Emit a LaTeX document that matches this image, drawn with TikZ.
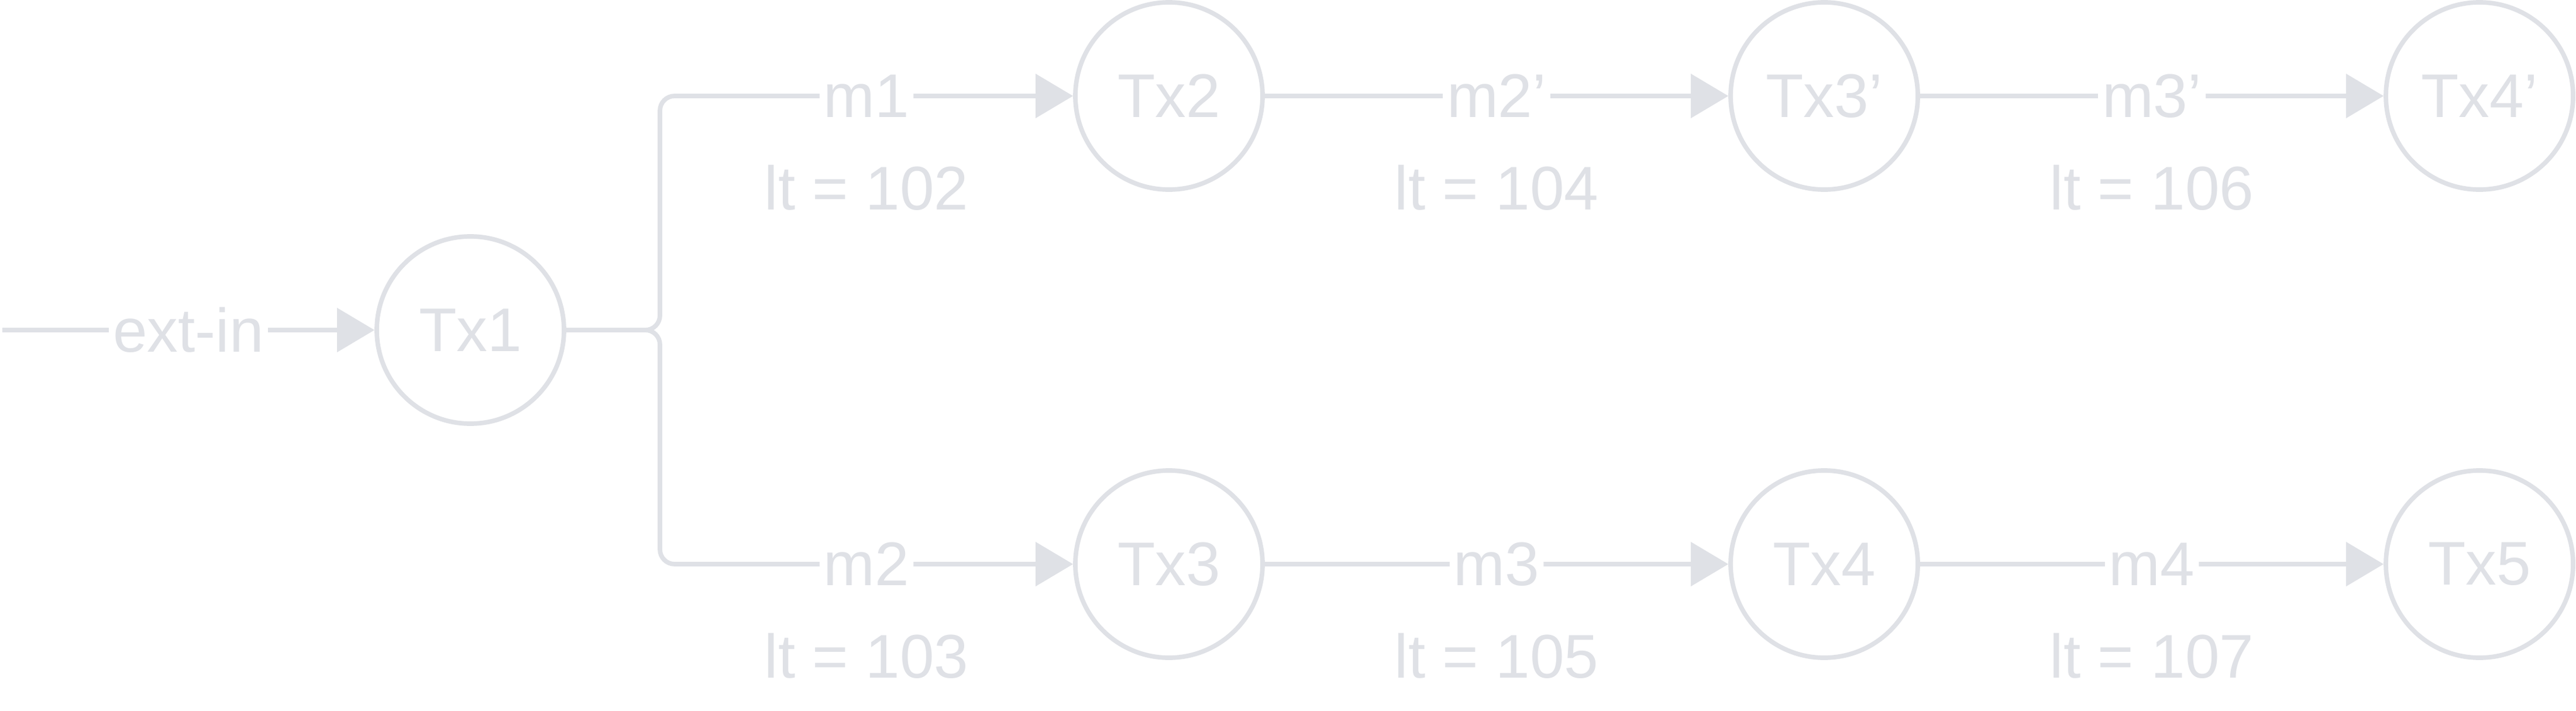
\documentclass[tikz,border=0pt]{standalone}
\usepackage{fontspec}
\setmainfont{Liberation Sans}
\usetikzlibrary{arrows.meta,positioning}
\definecolor{edgegray}{HTML}{DFE1E6}
\tikzset{
  tx/.style={circle,draw=edgegray,line width=2.2pt,minimum size=3.2cm,inner sep=0pt,
             text=edgegray,font=\fontsize{30}{34}\selectfont},
  link/.style={draw=edgegray,line width=2.2pt,rounded corners=0.25cm,
               -{Triangle[length=0.64cm,width=0.74cm]}},
  msg/.style={fill=white,inner sep=0.07cm,text=edgegray,font=\fontsize{30}{34}\selectfont},
  lt/.style={text=edgegray,font=\fontsize{30}{34}\selectfont}
}
\begin{document}
\begin{tikzpicture}
  \useasboundingbox[fill=white] (0,0) rectangle (44.03,12.14);
  % transactions
  \node[tx] (Tx1) at (8.04,6.50) {Tx1};
  \node[tx] (Tx2) at (19.98,10.50) {Tx2};
  \node[tx] (Tx3p) at (31.18,10.50) {Tx3'};
  \node[tx] (Tx4p) at (42.38,10.50) {Tx4'};
  \node[tx] (Tx3) at (19.98,2.50) {Tx3};
  \node[tx] (Tx4) at (31.18,2.50) {Tx4};
  \node[tx] (Tx5) at (42.38,2.50) {Tx5};
  \coordinate (src) at (0.04,6.50);
  \coordinate (fork) at (11.28,6.50);

  % connectors
  \draw[link] (src) -- node[msg] {ext-in} (Tx1);
  \draw[link] (Tx1.east) -- (fork) |- node[msg,pos=0.75] (m1) {m1} (Tx2.west);
  \draw[link] (Tx1.east) -- (fork) |- node[msg,pos=0.75] (m2) {m2} (Tx3.west);
  \draw[link] (Tx2) -- node[msg] (m2p) {m2'} (Tx3p);
  \draw[link] (Tx3p) -- node[msg] (m3p) {m3'} (Tx4p);
  \draw[link] (Tx3) -- node[msg] (m3) {m3} (Tx4);
  \draw[link] (Tx4) -- node[msg] (m4) {m4} (Tx5);

  % lt values
  \node[lt] (lt102) at ([yshift=-1.57cm]m1.center) {lt = 102};
  \node[lt] (lt103) at ([yshift=-1.57cm]m2.center) {lt = 103};
  \node[lt] (lt104) at ([yshift=-1.57cm]m2p.center) {lt = 104};
  \node[lt] (lt106) at ([yshift=-1.57cm]m3p.center) {lt = 106};
  \node[lt] (lt105) at ([yshift=-1.57cm]m3.center) {lt = 105};
  \node[lt] (lt107) at ([yshift=-1.57cm]m4.center) {lt = 107};
\end{tikzpicture}
\end{document}
